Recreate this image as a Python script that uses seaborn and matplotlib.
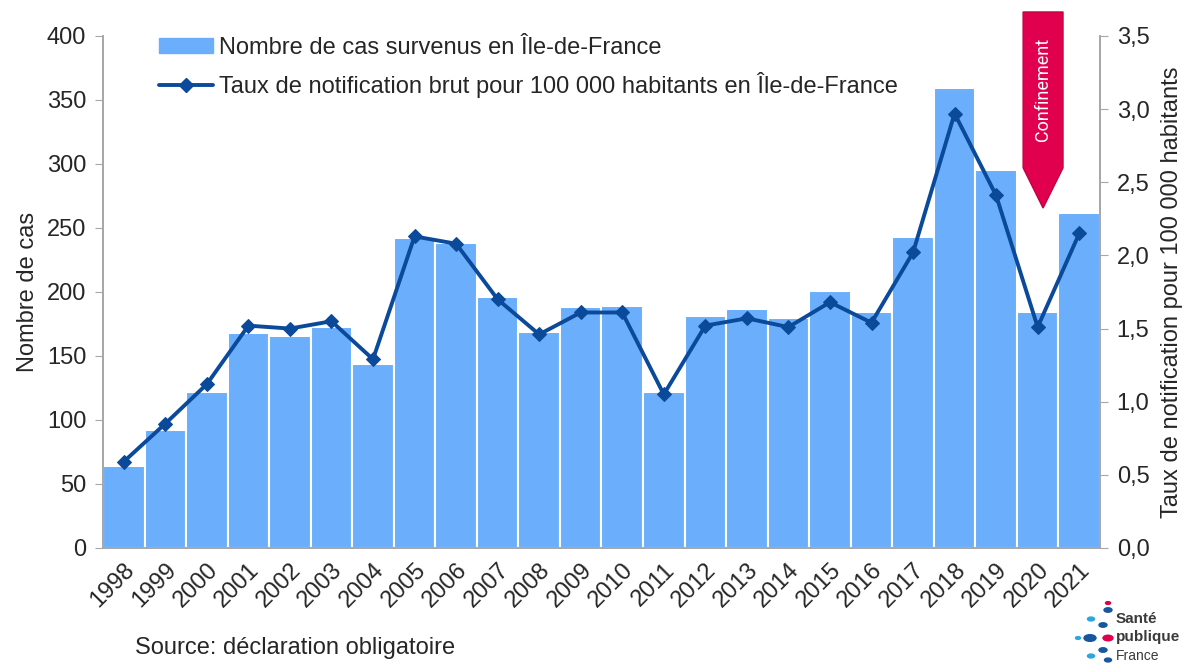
import numpy as np
import pandas as pd
import matplotlib
matplotlib.use("Agg")
import matplotlib.pyplot as plt
from matplotlib.patches import Polygon, Patch
from matplotlib.lines import Line2D
import seaborn as sns

annees = [str(a) for a in range(1998, 2022)]
nb_cas = [64, 92, 122, 168, 166, 173, 144, 242, 238, 196, 169, 188, 189, 122,
          181, 187, 180, 201, 184, 243, 359, 295, 184, 262]
taux = [0.59, 0.85, 1.12, 1.52, 1.50, 1.55, 1.29, 2.13, 2.08, 1.70, 1.46, 1.61,
        1.61, 1.05, 1.52, 1.57, 1.51, 1.68, 1.54, 2.02, 2.97, 2.41, 1.51, 2.15]

df = pd.DataFrame({"annee": annees, "cas": nb_cas, "taux": taux})

sns.set_style("white")
plt.rcParams["font.family"] = ["Liberation Sans", "DejaVu Sans"]

bar_col = "#6aaefc"
line_col = "#0b4a9a"
grey = "#a6a6a6"
fs = 17

fig = plt.figure(figsize=(11.92, 6.64), dpi=100)
ax = fig.add_axes([0.0864, 0.1747, 0.8364, 0.7711])
ax2 = ax.twinx()

sns.barplot(data=df, x="annee", y="cas", color=bar_col, width=1.0, saturation=1,
            edgecolor="white", linewidth=1.5, ax=ax, zorder=1)
x = np.arange(len(annees))
sns.lineplot(x=x, y=df["taux"], color=line_col, marker="D", markersize=7.5,
             markeredgecolor=line_col, linewidth=2.8, ax=ax2)

ax.set_xlim(-0.5, len(annees) - 0.5)
ax.set_ylim(0, 400)
ax2.set_ylim(0, 3.5)
ax.set_yticks(range(0, 401, 50))
ax2.set_yticks(np.arange(0, 3.51, 0.5))
ax2.set_yticklabels([f"{v:.1f}".replace(".", ",") for v in np.arange(0, 3.51, 0.5)])

ax.set_xticks(x)
ax.set_xticklabels(annees, rotation=45, ha="right", rotation_mode="anchor")
ax.set_xticks(np.arange(-0.5, len(annees), 1), minor=True)
ax.tick_params(axis="x", which="major", length=0, pad=8, labelsize=fs)
ax.tick_params(axis="x", which="minor", length=6, color=grey, direction="out")
ax.tick_params(axis="y", length=6, color=grey, direction="out", labelsize=fs, left=True, pad=6)
ax2.tick_params(axis="y", length=6, color=grey, direction="out", labelsize=fs, right=True, pad=6)

ax.set_xlabel("")
ax.set_ylabel("Nombre de cas", fontsize=fs, labelpad=6)
ax2.set_ylabel("Taux de notification pour 100 000 habitants", fontsize=fs, labelpad=8)

for a in (ax, ax2):
    a.spines["top"].set_visible(False)
    for s in ("left", "right", "bottom"):
        a.spines[s].set_color(grey)
        a.spines[s].set_linewidth(1.2)

# légende
handles = [Patch(color=bar_col),
           Line2D([], [], color=line_col, marker="D", markersize=7.5, linewidth=2.8)]
labels = ["Nombre de cas survenus en Île-de-France",
          "Taux de notification brut pour 100 000 habitants en Île-de-France"]
ax2.legend(handles, labels, loc="upper left", bbox_to_anchor=(0.035, 1.04),
           frameon=False, fontsize=fs, labelspacing=0.55, handlelength=2.3,
           handletextpad=0.25, handleheight=0.6)

# flèche "Confinement"
x0, x1, xm = 21.65, 22.61, 22.13
arrow = Polygon([[x0, 418.75], [x1, 418.75], [x1, 297], [xm, 265.6], [x0, 297]],
                closed=True, facecolor="#e0004d", edgecolor="#c20042",
                clip_on=False, zorder=5)
ax.add_patch(arrow)
ax.text(xm, 358, "Confinement", rotation=90, color="white", fontsize=13,
        ha="center", va="center", zorder=6, family=["Roboto", "DejaVu Sans"],
        fontstretch="condensed")

fig.text(0.113, 0.015, "Source: déclaration obligatoire", fontsize=fs)

# logo Santé publique France
dots = [(1091, 619, "#2aa7e0", 3.5), (1103, 625, "#16579f", 4), (1108, 610, "#16579f", 4),
        (1108, 603, "#e0004d", 2.5), (1078, 638, "#2aa7e0", 2.5), (1090, 638, "#16579f", 6),
        (1108, 638, "#e0004d", 5), (1103, 650, "#16579f", 4), (1091, 656, "#2aa7e0", 3.5),
        (1108, 660, "#16579f", 3.5)]
for px, py, c, s in dots:
    fig.patches.append(plt.Circle((px / 1192, 1 - py / 664), s / 1192, color=c,
                                  transform=fig.transFigure, figure=fig))
fig.text(1116 / 1192, 1 - 619 / 664, "Santé", fontsize=11, weight="bold",
         color="#3a3a3a", va="center")
fig.text(1116 / 1192, 1 - 637 / 664, "publique", fontsize=11, weight="bold",
         color="#3a3a3a", va="center")
fig.text(1116 / 1192, 1 - 656 / 664, "France", fontsize=10, color="#3a3a3a", va="center")

fig.savefig("out.png", dpi=100)
